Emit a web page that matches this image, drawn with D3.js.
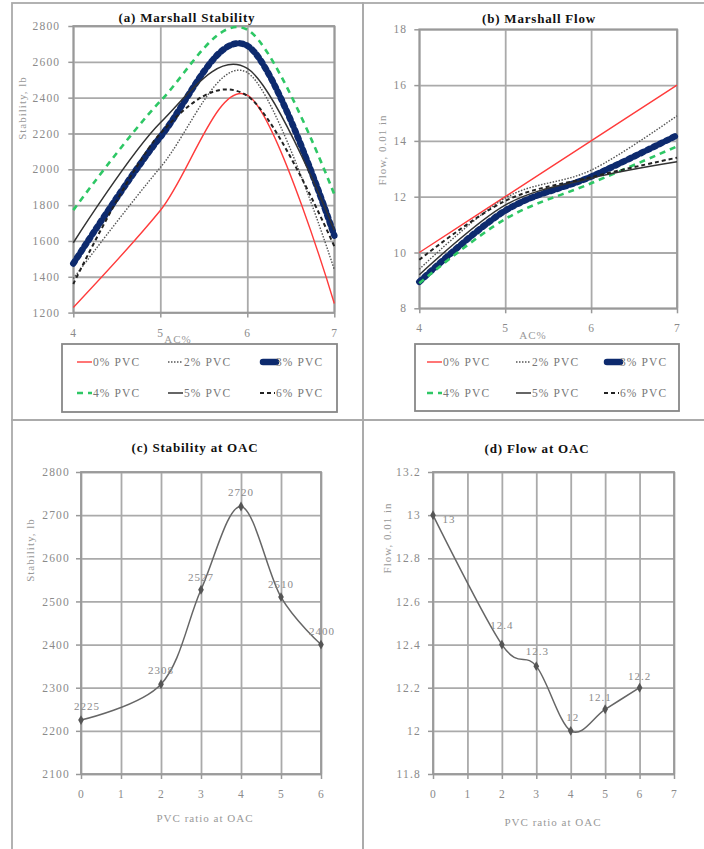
<!DOCTYPE html>
<html>
<head>
<meta charset="utf-8">
<script src="https://cdn.jsdelivr.net/npm/d3@7"></script>
<style>
body { margin: 0; background: #fff; }
text { font-family: "Liberation Serif", "Times New Roman", serif; }
.axis text { fill: #8a8a8a; font-size: 11.5px; letter-spacing: 1.2px; }
.axis .domain { display: none; }
.axis line { stroke: #999; stroke-width: 1.5; }
.grid .domain { display: none; }
.grid line { stroke: #aaa; stroke-width: 1.8; }
.grid text { display: none; }
.title { font-size: 13px; font-weight: bold; fill: #111; letter-spacing: 0.8px; }
.ylabel, .xlabel { font-size: 11px; fill: #999; letter-spacing: 1px; }
.legend text { font-size: 11.5px; fill: #777; letter-spacing: 1.1px; }
.pt-label { font-size: 11px; fill: #8a8a8a; letter-spacing: 1px; }
</style>
</head>
<body>
<svg width="704" height="849"></svg>
<script>
// ---- data ----
var acLevels = [4, 5, 6, 7];
var pvcSeries = ['0% PVC', '2% PVC', '3% PVC', '4% PVC', '5% PVC', '6% PVC'];

// Marshall stability (lb) per series at AC 4,5,6,7
var stability0 = [1229, 1770, 2414, 1251];
var stability2 = [1390, 2010, 2540, 1440];
var stability3 = [1474, 2180, 2690, 1630];
var stability4 = [1772, 2380, 2780, 1860];
var stability5 = [1590, 2260, 2563, 1660];
var stability6 = [1360, 2200, 2410, 1570];

// Marshall flow (0.01 in) per series at AC 4,5,6,7
var flow0 = [10.0, 12.0, 14.0, 16.0];
var flow2 = [9.4, 11.95, 12.95, 14.9];
var flow3 = [8.95, 11.5, 12.72, 14.2];
var flow4 = [8.9, 11.2, 12.48, 13.8];
var flow5 = [9.2, 11.7, 12.66, 13.25];
var flow6 = [9.74, 11.85, 12.7, 13.4];

// values at optimum asphalt content
var pvcRatios = [0, 2, 3, 4, 5, 6];
var oacStability = [2225, 2308, 2527, 2720, 2510, 2400];
var oacFlow = [13, 12.4, 12.3, 12, 12.1, 12.2];

// tick labels
var acTicks = [4, 5, 6, 7];
var stabilityTicks = [1200, 1400, 1600, 1800, 2000, 2200, 2400, 2600, 2800];
var flowTicks = [8, 10, 12, 14, 16, 18];
var oacStabilityTicks = [2100, 2200, 2300, 2400, 2500, 2600, 2700, 2800];
var oacFlowTicks = [11.8, 12, 12.2, 12.4, 12.6, 12.8, 13, 13.2];
var pvcTicksC = [0, 1, 2, 3, 4, 5, 6];
var pvcTicksD = [0, 1, 2, 3, 4, 5, 6, 7];

// ---- styles ----
var seriesStyles = [
    {color: '#ff3b3b', width: 1.4, dash: null, cap: 'butt'},
    {color: '#555', width: 1.4, dash: '1.5,1.5', cap: 'butt'},
    {color: '#0d2a6e', width: 6.5, dash: '3,4', cap: 'round'},
    {color: '#2ec765', width: 2.6, dash: '6,5', cap: 'butt'},
    {color: '#333', width: 1.5, dash: null, cap: 'butt'},
    {color: '#222', width: 2, dash: '4,3', cap: 'butt'}
];

var svg = d3.select('svg');
var smooth = d3.curveCardinal.tension(0);

// panel frames
var frame = svg.append('g')
    .attr('fill', 'none')
    .attr('stroke', '#aaa')
    .attr('stroke-width', 1.8);
frame.append('rect').attr('x', 12).attr('y', 3).attr('width', 351).attr('height', 417);
frame.append('rect').attr('x', 363).attr('y', 3).attr('width', 345).attr('height', 417);
frame.append('rect').attr('x', 12).attr('y', 420).attr('width', 351).attr('height', 435);
frame.append('rect').attr('x', 363).attr('y', 420).attr('width', 345).attr('height', 435);

function makePlot(box, xDomain, yDomain, xTicks, yTicks) {
    var x = d3.scaleLinear().domain(xDomain).range([box.l, box.r]);
    var y = d3.scaleLinear().domain(yDomain).range([box.b, box.t]);
    var g = svg.append('g');

    g.append('g')
        .attr('class', 'grid')
        .attr('transform', 'translate(0,' + box.b + ')')
        .call(d3.axisBottom(x).tickValues(xTicks).tickSize(-(box.b - box.t)).tickSizeOuter(0));
    g.append('g')
        .attr('class', 'grid')
        .attr('transform', 'translate(' + box.l + ',0)')
        .call(d3.axisLeft(y).tickValues(yTicks).tickSize(-(box.r - box.l)).tickSizeOuter(0));

    g.append('rect')
        .attr('x', box.l).attr('y', box.t)
        .attr('width', box.r - box.l).attr('height', box.b - box.t)
        .attr('fill', 'none').attr('stroke', '#999').attr('stroke-width', 1.8);

    g.append('g')
        .attr('class', 'axis')
        .attr('transform', 'translate(0,' + box.b + ')')
        .call(d3.axisBottom(x).tickValues(xTicks).tickSize(5).tickSizeOuter(0)
            .tickPadding(11).tickFormat(String));
    g.append('g')
        .attr('class', 'axis')
        .attr('transform', 'translate(' + box.l + ',0)')
        .call(d3.axisLeft(y).tickValues(yTicks).tickSize(5).tickSizeOuter(0)
            .tickPadding(box.pad).tickFormat(String));

    return {x: x, y: y, g: g};
}

function addText(cls, x, y, txt, rotate) {
    var t = svg.append('text')
        .attr('class', cls)
        .attr('text-anchor', 'middle')
        .attr('dy', '0.35em')
        .text(txt);
    if (rotate) {
        t.attr('transform', 'translate(' + x + ',' + y + ') rotate(-90)');
    } else {
        t.attr('x', x).attr('y', y);
    }
    return t;
}

function drawSeries(plot, seriesValues) {
    var line = d3.line()
        .x(function(d) { return plot.x(d[0]); })
        .y(function(d) { return plot.y(d[1]); })
        .curve(smooth);
    seriesValues.forEach(function(vals, i) {
        var st = seriesStyles[i];
        var pts = acLevels.map(function(ac, j) { return [ac, vals[j]]; });
        plot.g.append('path')
            .datum(pts)
            .attr('d', line)
            .attr('fill', 'none')
            .attr('stroke', st.color)
            .attr('stroke-width', st.width)
            .attr('stroke-dasharray', st.dash)
            .attr('stroke-linecap', st.cap);
    });
}

function drawLegend(box, colX, rowY) {
    var lg = svg.append('g').attr('class', 'legend');
    lg.append('rect')
        .attr('x', box.x).attr('y', box.y)
        .attr('width', box.w).attr('height', box.h)
        .attr('fill', '#fff').attr('stroke', '#888').attr('stroke-width', 1.8);
    pvcSeries.forEach(function(name, i) {
        var st = seriesStyles[i];
        var x0 = colX[i % 3];
        var y0 = rowY[Math.floor(i / 3)];
        var len = st.cap === 'round' ? 13 : 15;
        var off = st.cap === 'round' ? 3 : 0;
        lg.append('line')
            .attr('x1', x0 + off).attr('x2', x0 + off + len)
            .attr('y1', y0).attr('y2', y0)
            .attr('stroke', st.color)
            .attr('stroke-width', st.width)
            .attr('stroke-dasharray', st.cap === 'round' ? null : st.dash)
            .attr('stroke-linecap', st.cap);
        lg.append('text')
            .attr('x', x0 + 16)
            .attr('y', y0)
            .attr('dy', '0.35em')
            .text(name);
    });
}

// (a) Marshall Stability
var plotA = makePlot({l: 73.3, r: 334.3, t: 26, b: 312.6, pad: 8},
    [4, 7], [1200, 2800], acTicks, stabilityTicks);
drawSeries(plotA, [stability0, stability2, stability3, stability4, stability5, stability6]);
addText('title', 187, 17, '(a) Marshall Stability');
addText('ylabel', 22, 108, 'Stability, lb', true);
addText('xlabel', 178, 339, 'AC%');
drawLegend({x: 62, y: 344, w: 275, h: 68}, [77, 168, 260], [362, 393]);

// (b) Marshall Flow
var plotB = makePlot({l: 419.3, r: 677, t: 29.3, b: 308.3, pad: 7},
    [4, 7], [8, 18], acTicks, flowTicks);
drawSeries(plotB, [flow0, flow2, flow3, flow4, flow5, flow6]);
addText('title', 539, 18, '(b) Marshall Flow');
addText('ylabel', 382, 150, 'Flow, 0.01 in', true);
addText('xlabel', 533, 335, 'AC%');
drawLegend({x: 415, y: 344, w: 264, h: 67}, [427, 516, 604], [362, 393]);

// point-value panels
function drawOacPanel(plot, values, labelDx, labelDy) {
    var pts = pvcRatios.map(function(p, i) { return [p, values[i]]; });
    var line = d3.line()
        .x(function(d) { return plot.x(d[0]); })
        .y(function(d) { return plot.y(d[1]); })
        .curve(smooth);
    plot.g.append('path')
        .datum(pts)
        .attr('d', line)
        .attr('fill', 'none')
        .attr('stroke', '#666')
        .attr('stroke-width', 1.5);
    plot.g.selectAll('.marker')
        .data(pts)
        .enter()
        .append('path')
        .attr('class', 'marker')
        .attr('transform', function(d) { return 'translate(' + plot.x(d[0]) + ',' + plot.y(d[1]) + ')'; })
        .attr('d', d3.symbol().type(d3.symbolDiamond).size(28))
        .attr('fill', '#555');
    plot.g.selectAll('.pt-label')
        .data(pts)
        .enter()
        .append('text')
        .attr('class', 'pt-label')
        .attr('text-anchor', 'middle')
        .attr('dy', '0.35em')
        .attr('x', function(d, i) { return plot.x(d[0]) + labelDx[i]; })
        .attr('y', function(d, i) { return plot.y(d[1]) + labelDy[i]; })
        .text(function(d) { return String(d[1]); });
}

// (c) Stability at OAC
var plotC = makePlot({l: 81, r: 321, t: 472, b: 774, pad: 6},
    [0, 6], [2100, 2800], pvcTicksC, oacStabilityTicks);
drawOacPanel(plotC, oacStability, [6, 0, 0, 0, 0, 1], [-14, -14, -13, -14, -13, -13]);
addText('title', 195, 447, '(c) Stability at OAC');
addText('ylabel', 30, 550, 'Stability, lb', true);
addText('xlabel', 205, 818, 'PVC ratio at OAC');

// (d) Flow at OAC
var plotD = makePlot({l: 433, r: 674, t: 472, b: 774, pad: 7},
    [0, 7], [11.8, 13.2], pvcTicksD, oacFlowTicks);
drawOacPanel(plotD, oacFlow, [16, 0, 1, 2, -5, 0], [4, -19, -15, -14, -12, -12]);
addText('title', 537, 448, '(d) Flow at OAC');
addText('ylabel', 387, 538, 'Flow, 0.01 in', true);
addText('xlabel', 553, 822, 'PVC ratio at OAC');
</script>
</body>
</html>
